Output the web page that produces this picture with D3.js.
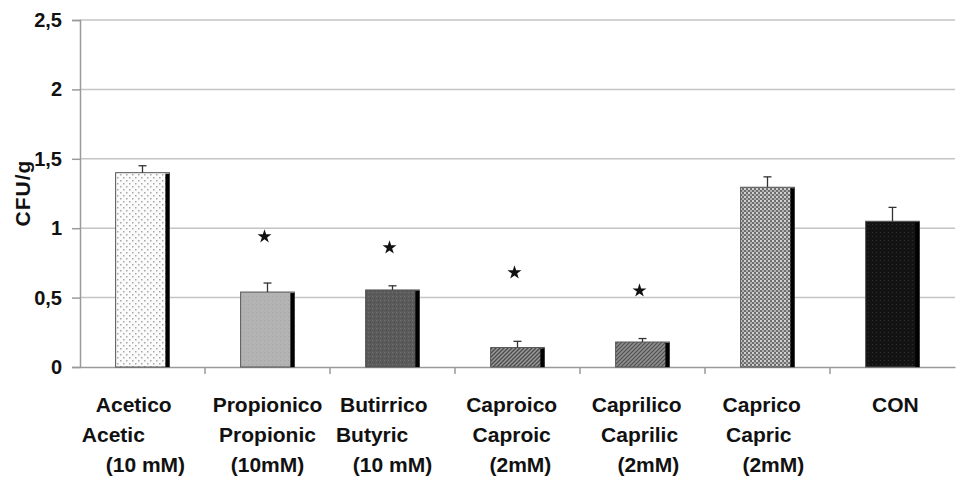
<!DOCTYPE html>
<html>
<head>
<meta charset="utf-8">
<script src="https://cdn.jsdelivr.net/npm/d3@7"></script>
<style>
  html, body { margin: 0; padding: 0; background: #fff; }
  svg { display: block; font-family: "Liberation Sans", Arial, sans-serif; }
</style>
</head>
<body>
<svg id="chart" width="958" height="478"></svg>
<script>
// Treatment labels (Italian / English / concentration)
const categories = ["Acetico", "Propionico", "Butirrico", "Caproico", "Caprilico", "Caprico", "CON"];
const labelLines = [
  ["Acetico   ", "Acetic          ", " (10 mM)"],
  ["Propionico", "Propionic", "(10mM)"],
  ["Butirrico   ", "Butyric       ", "(10 mM)"],
  ["Caproico  ", "Caproic  ", " (2mM)"],
  ["Caprilico  ", "Caprilic ", "  (2mM)"],
  ["Caprico  ", "Capric   ", "  (2mM)"],
  [" CON"]
];
// Mean CFU/g and standard error for each treatment
const means = [1.40, 0.54, 0.555, 0.14, 0.18, 1.295, 1.05];
const errors = [0.05, 0.065, 0.03, 0.045, 0.025, 0.075, 0.10];
// Height of the significance star (null = not significant)
const starLevels = [null, 0.94, 0.86, 0.68, 0.55, null, null];
const yTicks = [0, 0.5, 1, 1.5, 2, 2.5];

const svg = d3.select("#chart");
const plotLeft = 80, plotRight = 955, plotTop = 20, plotBottom = 367;

const x = d3.scaleBand().domain(categories).range([plotLeft, plotRight]).paddingInner(0).paddingOuter(0);
const y = d3.scaleLinear().domain([0, 2.5]).range([plotBottom, plotTop]);
const fmt = v => String(v).replace(".", ",");

// Fill patterns for each bar
const defs = svg.append("defs");
function pat(id, w, h, bg, draw) {
  const p = defs.append("pattern").attr("id", id).attr("patternUnits", "userSpaceOnUse")
    .attr("width", w).attr("height", h);
  p.append("rect").attr("width", w).attr("height", h).attr("fill", bg);
  draw(p);
}
pat("p0", 6, 6, "#fbfbfb", p => {
  p.append("rect").attr("x", 0).attr("y", 0).attr("width", 1.5).attr("height", 1.5).attr("fill", "#a8a8a8");
  p.append("rect").attr("x", 3).attr("y", 3).attr("width", 1.5).attr("height", 1.5).attr("fill", "#a8a8a8");
});
pat("p1", 4, 4, "#b3b3b3", p => {
  p.append("rect").attr("x", 0).attr("y", 0).attr("width", 1).attr("height", 1).attr("fill", "#a6a6a6");
});
pat("p2", 4, 4, "#5b5b5b", p => {
  p.append("rect").attr("x", 0).attr("y", 0).attr("width", 1).attr("height", 1).attr("fill", "#707070");
  p.append("rect").attr("x", 2).attr("y", 2).attr("width", 1).attr("height", 1).attr("fill", "#4a4a4a");
});
pat("p3", 4, 4, "#9a9a9a", p => {
  p.append("path").attr("d", "M-1,1 L1,-1 M0,4 L4,0 M3,5 L5,3").attr("stroke", "#4a4a4a").attr("stroke-width", 1.3);
});
pat("p4", 4, 4, "#8e8e8e", p => {
  p.append("path").attr("d", "M-1,1 L1,-1 M0,4 L4,0 M3,5 L5,3").attr("stroke", "#505050").attr("stroke-width", 1.2);
});
pat("p5", 4, 4, "#6e6e6e", p => {
  p.append("rect").attr("x", 0).attr("y", 0).attr("width", 2).attr("height", 2).attr("fill", "#d0d0d0");
  p.append("rect").attr("x", 2).attr("y", 2).attr("width", 2).attr("height", 2).attr("fill", "#b0b0b0");
});
pat("p6", 4, 4, "#131313", p => {
  p.append("rect").attr("x", 0).attr("y", 0).attr("width", 1).attr("height", 1).attr("fill", "#2e2e2e");
});

// Horizontal gridlines
svg.append("g").selectAll("line").data(yTicks.filter(d => d > 0)).join("line")
  .attr("x1", plotLeft).attr("x2", plotRight)
  .attr("y1", d => y(d)).attr("y2", d => y(d))
  .attr("stroke", "#c4c4c4").attr("stroke-width", 1.5);

// Y axis
const yAxis = svg.append("g").attr("transform", `translate(${plotLeft},0)`)
  .call(d3.axisLeft(y).tickValues(yTicks).tickFormat(fmt).tickSize(8).tickPadding(10));
yAxis.select(".domain").attr("stroke", "#9a9a9a").attr("stroke-width", 1.5);
yAxis.selectAll(".tick line").attr("stroke", "#9a9a9a").attr("stroke-width", 1.5);
yAxis.selectAll(".tick text").attr("font-size", 20).attr("font-weight", "bold").attr("fill", "#111")
  .attr("font-family", "Liberation Sans, Arial, sans-serif");

// X axis baseline with category separators
const xAxis = svg.append("g").attr("transform", `translate(0,${plotBottom})`)
  .call(d3.axisBottom(x).tickSize(0).tickFormat(""));
xAxis.select(".domain").attr("stroke", "#9a9a9a").attr("stroke-width", 1.5);
svg.append("g").selectAll("line").data(categories.slice(1)).join("line")
  .attr("x1", d => x(d)).attr("x2", d => x(d))
  .attr("y1", plotBottom).attr("y2", plotBottom + 7)
  .attr("stroke", "#9a9a9a").attr("stroke-width", 1.5);

// Bars
const bw = x.bandwidth() * 0.43;
const bars = svg.append("g").selectAll("g").data(categories).join("g");
bars.append("rect")
  .attr("x", d => x(d) + (x.bandwidth() - bw) / 2)
  .attr("y", (d, i) => y(means[i]))
  .attr("width", bw)
  .attr("height", (d, i) => y(0) - y(means[i]))
  .attr("fill", (d, i) => `url(#p${i})`)
  .attr("stroke", "#555").attr("stroke-width", 1);
// dark right edge
bars.append("rect")
  .attr("x", d => x(d) + (x.bandwidth() + bw) / 2 - 4)
  .attr("y", (d, i) => y(means[i]) + 1)
  .attr("width", 4)
  .attr("height", (d, i) => y(0) - y(means[i]) - 1)
  .attr("fill", "#000");

// Error bars (upper only)
const cx = d => x(d) + x.bandwidth() / 2;
bars.append("line")
  .attr("x1", cx).attr("x2", cx)
  .attr("y1", (d, i) => y(means[i])).attr("y2", (d, i) => y(means[i] + errors[i]))
  .attr("stroke", "#333").attr("stroke-width", 1.3);
bars.append("line")
  .attr("x1", d => cx(d) - 4).attr("x2", d => cx(d) + 4)
  .attr("y1", (d, i) => y(means[i] + errors[i])).attr("y2", (d, i) => y(means[i] + errors[i]))
  .attr("stroke", "#333").attr("stroke-width", 1.3);

// Significance stars
svg.append("g").selectAll("path")
  .data(categories.map((c, i) => ({c, v: starLevels[i]})).filter(d => d.v !== null))
  .join("path")
  .attr("transform", d => `translate(${cx(d.c) - 3},${y(d.v)})`)
  .attr("d", d3.symbol(d3.symbolStar, 60))
  .attr("fill", "#111");

// Category labels
const lab = svg.append("g").selectAll("text").data(categories).join("text")
  .attr("x", cx)
  .attr("text-anchor", "middle")
  .attr("xml:space", "preserve")
  .style("white-space", "pre")
  .attr("font-size", 21).attr("font-weight", "bold").attr("fill", "#111");
lab.each(function(d, i) {
  d3.select(this).selectAll("tspan").data(labelLines[i]).join("tspan")
    .attr("x", cx(d))
    .attr("y", (t, j) => 412 + j * 30)
    .text(t => t);
});

// Y axis title
svg.append("text")
  .attr("transform", "translate(30,193) rotate(-90)")
  .attr("text-anchor", "middle")
  .attr("font-size", 21).attr("font-weight", "bold").attr("letter-spacing", 1)
  .attr("fill", "#111")
  .text("CFU/g");
</script>
</body>
</html>
